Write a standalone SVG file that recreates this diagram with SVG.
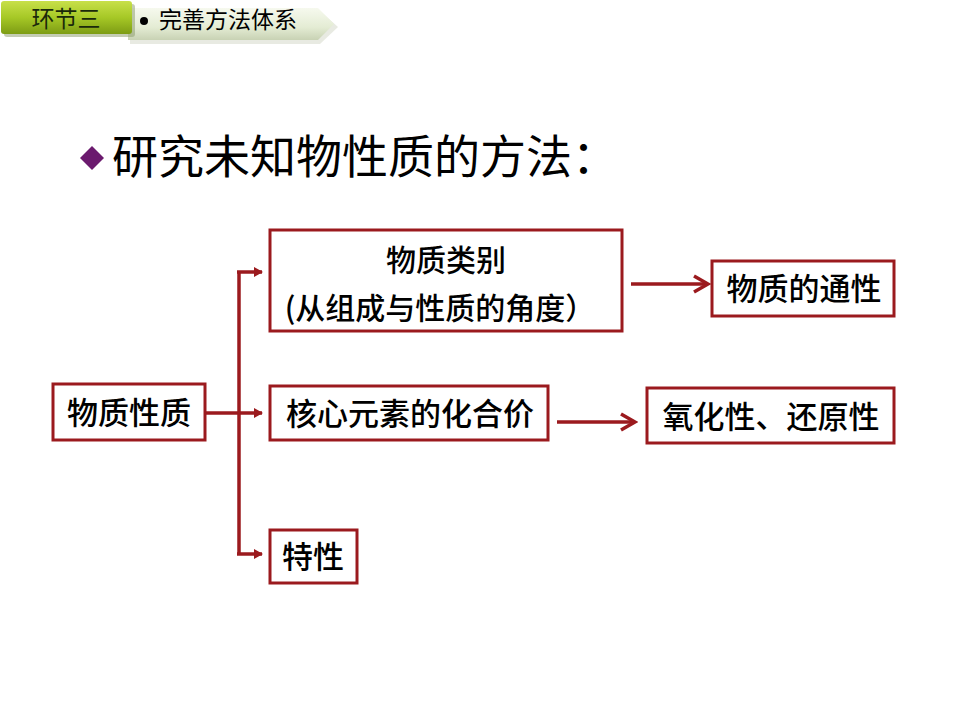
<svg xmlns="http://www.w3.org/2000/svg" width="960" height="720" viewBox="0 0 960 720">
<defs>
<linearGradient id="gGreen" x1="0" y1="0" x2="0" y2="1">
<stop offset="0" stop-color="#c8e04a"/><stop offset="0.5" stop-color="#a6c826"/><stop offset="1" stop-color="#7d9c14"/>
</linearGradient>
<linearGradient id="gRib" x1="0" y1="0" x2="0" y2="1">
<stop offset="0" stop-color="#f6f9ee"/><stop offset="0.6" stop-color="#e4ecd4"/><stop offset="1" stop-color="#c8d2b4"/>
</linearGradient>
<marker id="tri" markerWidth="10" markerHeight="10" refX="8" refY="5" orient="auto" markerUnits="userSpaceOnUse">
<path d="M0,0 L9,5 L0,10 Z" fill="#9b1a1e"/>
</marker>
<marker id="chev" markerWidth="20" markerHeight="20" refX="17" refY="10" orient="auto" markerUnits="userSpaceOnUse">
<path d="M3,2 L17,10 L3,18" fill="none" stroke="#9b1a1e" stroke-width="3.5"/>
</marker>
</defs>
<style>
.box{fill:#fff;stroke:#9b1a1e;stroke-width:3}
.t{font-family:"Noto Sans CJK SC","Liberation Serif",serif;fill:#000;text-anchor:middle;font-weight:500}
.c{fill:none;stroke:#9b1a1e;stroke-width:3.5}
</style>
<rect width="960" height="720" fill="#fff"/>
<g id="header">
<path d="M128,9 L318,9 L336,25 L318,42 L128,42 Z" fill="#d9dccf" opacity="0.6" transform="translate(2,2)"/>
<path d="M128,8 L318,8 L334,24 L318,40 L128,40 Z" fill="url(#gRib)"/>
<rect x="4" y="4" width="131" height="33" rx="3" fill="#8a9a6a" opacity="0.5"/>
<rect x="1" y="1" width="131" height="33" rx="3" fill="url(#gGreen)"/>
<text x="66" y="27" class="t" style="font-size:23px;fill:#1a2a0a;font-weight:400">环节三</text>
<circle cx="144" cy="21" r="4" fill="#000"/>
<text x="159" y="28" style="font-family:'Noto Sans CJK SC',sans-serif;font-size:23px;fill:#000">完善方法体系</text>
</g>
<g id="title">
<path d="M80,158 L92,146 L104,158 L92,170 Z" fill="#6b1a6e"/>
<text x="112" y="173" style="font-family:'Noto Sans CJK SC',sans-serif;font-size:46px;fill:#000">研究未知物性质的方法：</text>
</g>
<g id="connectors">
<path class="c" d="M205,413 L262,413" marker-end="url(#tri)"/>
<path class="c" d="M239,272 L239,554"/>
<path class="c" d="M237,272 L262,272" marker-end="url(#tri)"/>
<path class="c" d="M237,554 L262,554" marker-end="url(#tri)"/>
<path class="c" d="M631,284 L708,284" marker-end="url(#chev)"/>
<path class="c" d="M557,422 L635,422" marker-end="url(#chev)"/>
</g>
<g id="n-wuzhixingzhi">
<rect class="box" x="53" y="384" width="152" height="56"/>
<text class="t" x="129" y="424" style="font-size:31px">物质性质</text>
</g>
<g id="n-leibie">
<rect class="box" x="270" y="230" width="352" height="101"/>
<text class="t" x="446" y="271" style="font-size:30px">物质类别</text>
<text class="t" x="440" y="319" style="font-size:30px">(从组成与性质的角度）</text>
</g>
<g id="n-tongxing">
<rect class="box" x="712" y="261" width="182" height="55"/>
<text class="t" x="804" y="300" style="font-size:31px">物质的通性</text>
</g>
<g id="n-huahejia">
<rect class="box" x="270" y="386" width="278" height="54"/>
<text class="t" x="410" y="425" style="font-size:31px">核心元素的化合价</text>
</g>
<g id="n-yanghua">
<rect class="box" x="647" y="388" width="247" height="55"/>
<text class="t" x="771" y="428" style="font-size:31px">氧化性、还原性</text>
</g>
<g id="n-texing">
<rect class="box" x="270" y="530" width="87" height="53"/>
<text class="t" x="313" y="568" style="font-size:31px">特性</text>
</g>
</svg>
